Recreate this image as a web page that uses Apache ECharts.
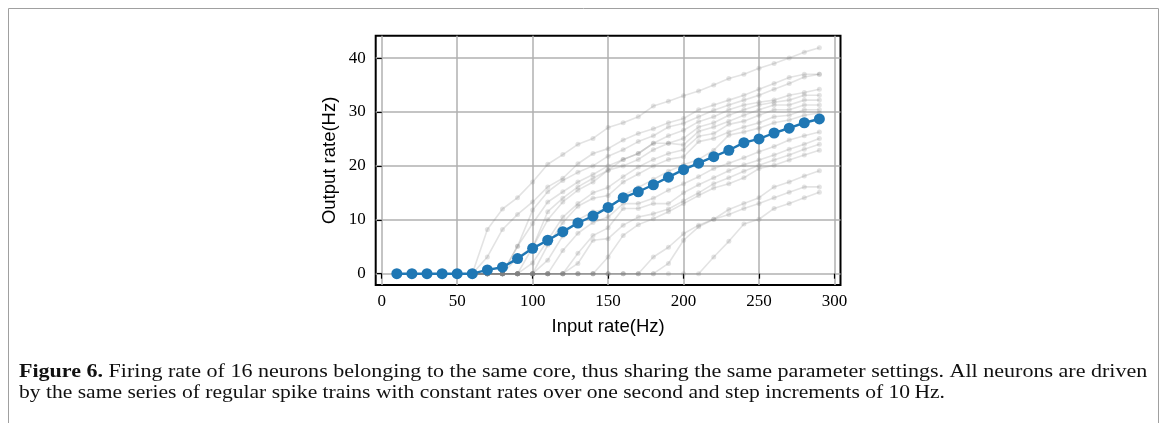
<!DOCTYPE html>
<html>
<head>
<meta charset="utf-8">
<script src="https://cdn.jsdelivr.net/npm/echarts@6/dist/echarts.min.js"></script>
<style>
  html, body { margin: 0; padding: 0; background: #ffffff; }
  #chart { width: 1167px; height: 423px; }
</style>
</head>
<body>
<div id="chart"></div>
<script>
// ---- data ----
const inputRates = [10,20,30,40,50,60,70,80,90,100,110,120,130,140,150,160,170,180,190,200,210,220,230,240,250,260,270,280,290];
const xTicks = [0,50,100,150,200,250,300];
const yTicks = [0,10,20,30,40];

// 16 individual neurons (grey)
const n01 = [0,0,0,0,0,0,8.2,12.0,14.1,17.0,20.3,22.1,24.0,25.1,27.1,28.0,29.1,31.1,32.0,33.0,33.9,35.0,36.2,37.0,38.1,39.0,40.0,41.1,41.9];
const n02 = [0,0,0,0,0,0,3.1,8.2,11.0,13.3,16.1,17.7,20.4,22.3,23.2,24.8,26.0,26.9,28.0,28.8,30.4,31.3,32.2,33.1,34.2,35.3,36.4,37.0,37.0];
const n03 = [0,0,0,0,0,0,0,0,5.1,11.8,15.2,17.3,18.8,20.0,21.8,23.0,24.5,25.6,27.2,27.9,29.1,30.3,31.3,32.2,33.1,34.2,35.3,36.5,37.0];
const n04 = [0,0,0,0,0,0,0,0,5.1,9.3,13.3,15.2,17.0,18.4,20.0,21.2,22.3,24.2,25.6,26.6,28.2,29.1,30.4,31.3,31.8,32.2,33.1,33.6,34.2];
const n05 = [0,0,0,0,0,0,0,0,3.0,4.9,11.5,14.0,16.1,17.7,19.2,21.2,22.3,24.2,24.2,25.1,27.2,28.0,29.4,30.4,31.3,31.8,32.2,33.1,33.1];
const n06 = [0,0,0,0,0,0,0,0,0,4.9,10.0,13.3,15.5,17.0,19.2,20.0,21.2,23.0,24.2,23.9,26.4,27.2,28.3,29.4,30.4,31.3,31.3,32.2,32.2];
const n07 = [0,0,0,0,0,0,0,0,0,2.0,6.2,10.5,13.0,15.0,16.0,18.0,19.8,21.2,22.3,23.0,25.5,26.0,27.7,28.3,29.4,30.4,30.4,31.3,31.3];
const n08 = [0,0,0,0,0,0,0,0,0,0,5.3,9.5,12.5,14.0,14.5,17.0,18.5,20.0,21.2,21.7,24.5,25.1,26.3,27.2,28.0,29.1,29.4,30.4,30.4];
const n09 = [0,0,0,0,0,0,0,0,0,0,2.5,7.0,10.0,11.5,12.0,14.5,16.0,17.5,19.0,20.2,21.2,22.9,25.7,26.3,27.0,28.0,28.5,29.4,29.8];
const n10 = [0,0,0,0,0,0,0,0,0,0,0,4.3,7.5,9.5,10.5,13.0,13.0,14.0,15.5,16.7,18.0,19.5,20.5,21.5,22.6,23.6,24.8,25.6,26.3];
const n11 = [0,0,0,0,0,0,0,0,0,0,0,0,3.8,7.1,8.5,12.1,12.1,13.0,13.0,15.0,16.5,17.8,19.1,20.2,21.1,22.0,23.1,24.0,25.1];
const n12 = [0,0,0,0,0,0,0,0,0,0,0,0,1.9,6.2,6.5,9.0,10.5,11.1,12.0,13.5,15.0,16.7,17.8,19.0,20.1,21.1,22.0,23.1,24.0];
const n13 = [0,0,0,0,0,0,0,0,0,0,0,0,0,0,3.1,7.1,9.1,10.2,11.5,13.0,14.5,15.9,16.7,17.8,19.5,20.1,21.1,22.0,22.9];
const n14 = [0,0,0,0,0,0,0,0,0,0,0,0,0,0,0,0,0,3.1,4.9,7.4,9.0,10.1,11.9,13.0,14.1,16.1,17.0,18.1,19.1];
const n15 = [0,0,0,0,0,0,0,0,0,0,0,0,0,0,0,0,0,0,1.9,6.2,8.7,10.1,11.0,12.1,13.0,14.1,15.1,16.1,16.1];
const n16 = [0,0,0,0,0,0,0,0,0,0,0,0,0,0,0,0,0,0,0,0,0,3.1,6.0,9.2,10.1,12.1,13.0,14.1,15.1];

// highlighted (blue) curve
const meanRate = [0,0,0,0,0,0,0.7,1.2,2.8,4.7,6.2,7.8,9.4,10.7,12.3,14.1,15.2,16.5,17.9,19.3,20.5,21.7,22.9,24.3,25.0,26.1,27.0,28.0,28.7];

const xTitle = 'Input rate(Hz)';
const yTitle = 'Output rate(Hz)';
const captionBold = 'Figure 6.';
const captionLine1 = ' Firing rate of 16 neurons belonging to the same core, thus sharing the same parameter settings. All neurons are driven';
const captionLine2 = 'by the same series of regular spike trains with constant rates over one second and step increments of 10\u2009Hz.';

// ---- chart ----
const neurons = [n01,n02,n03,n04,n05,n06,n07,n08,n09,n10,n11,n12,n13,n14,n15,n16];
const pairs = arr => inputRates.map((x, i) => [x, arr[i]]);

const greyColor = 'rgba(128,128,128,0.22)';
const series = neurons.map(arr => ({
  type: 'line',
  data: pairs(arr),
  symbol: 'circle',
  symbolSize: 5,
  showSymbol: true,
  lineStyle: { color: greyColor, width: 1.6 },
  itemStyle: { color: greyColor },
  z: 2,
  silent: true
}));
series.push({
  type: 'line',
  data: pairs(meanRate),
  symbol: 'circle',
  symbolSize: 11,
  lineStyle: { color: '#1f77b4', width: 2.4 },
  itemStyle: { color: '#1f77b4' },
  z: 5,
  silent: true
});

const tickFont = { fontFamily: 'Liberation Serif', fontSize: 17, color: '#000' };
const titleFont = { fontFamily: 'Liberation Sans', fontSize: 18.5, color: '#000' };
const capFont = 'Liberation Serif';
const capSize = 19;

const chart = echarts.init(document.getElementById('chart'), null, { renderer: 'canvas' });
chart.setOption({
  animation: false,
  backgroundColor: '#ffffff',
  grid: {
    left: 375.7, top: 35.7, width: 464.8, height: 249.3,
    show: true, borderColor: '#000', borderWidth: 2, backgroundColor: 'transparent',
    containLabel: false
  },
  xAxis: {
    type: 'value', min: -4, max: 304,
    name: xTitle, nameLocation: 'middle', nameGap: 32,
    nameTextStyle: titleFont,
    axisLine: { show: false },
    axisTick: { show: true, inside: false, length: 5, lineStyle: { color: '#000', width: 1.2 }, customValues: xTicks },
    axisLabel: Object.assign({ customValues: xTicks, margin: 8 }, tickFont),
    splitLine: { show: true, lineStyle: { color: '#b0b0b0', width: 1.5 } }
  },
  yAxis: {
    type: 'value', min: -2.1, max: 44.15,
    name: yTitle, nameLocation: 'middle', nameGap: 36,
    nameTextStyle: titleFont,
    axisLine: { show: false },
    axisTick: { show: true, inside: false, length: 5, lineStyle: { color: '#000', width: 1.2 }, customValues: yTicks },
    axisLabel: Object.assign({ customValues: yTicks, margin: 10 }, tickFont),
    splitLine: { show: true, lineStyle: { color: '#b0b0b0', width: 1.5 } }
  },
  series: series,
  graphic: [
    { type: 'polyline', silent: true, shape: { points: [[8.5, 423], [8.5, 8.5], [1158.5, 8.5], [1158.5, 423]] },
      style: { stroke: '#a0a0a0', lineWidth: 1, fill: null } },
    { type: 'text', x: 19, y: 363, scaleX: 1.16, silent: true,
      style: {
        text: '{b|' + captionBold + '}' + captionLine1,
        font: capSize + 'px "' + capFont + '"', fill: '#111',
        rich: { b: { fontWeight: 'bold', fontFamily: capFont, fontSize: capSize, fill: '#111' } }
      } },
    { type: 'text', x: 19, y: 384, scaleX: 1.135, silent: true,
      style: { text: captionLine2, font: capSize + 'px "' + capFont + '"', fill: '#111' } }
  ]
});
</script>
</body>
</html>
